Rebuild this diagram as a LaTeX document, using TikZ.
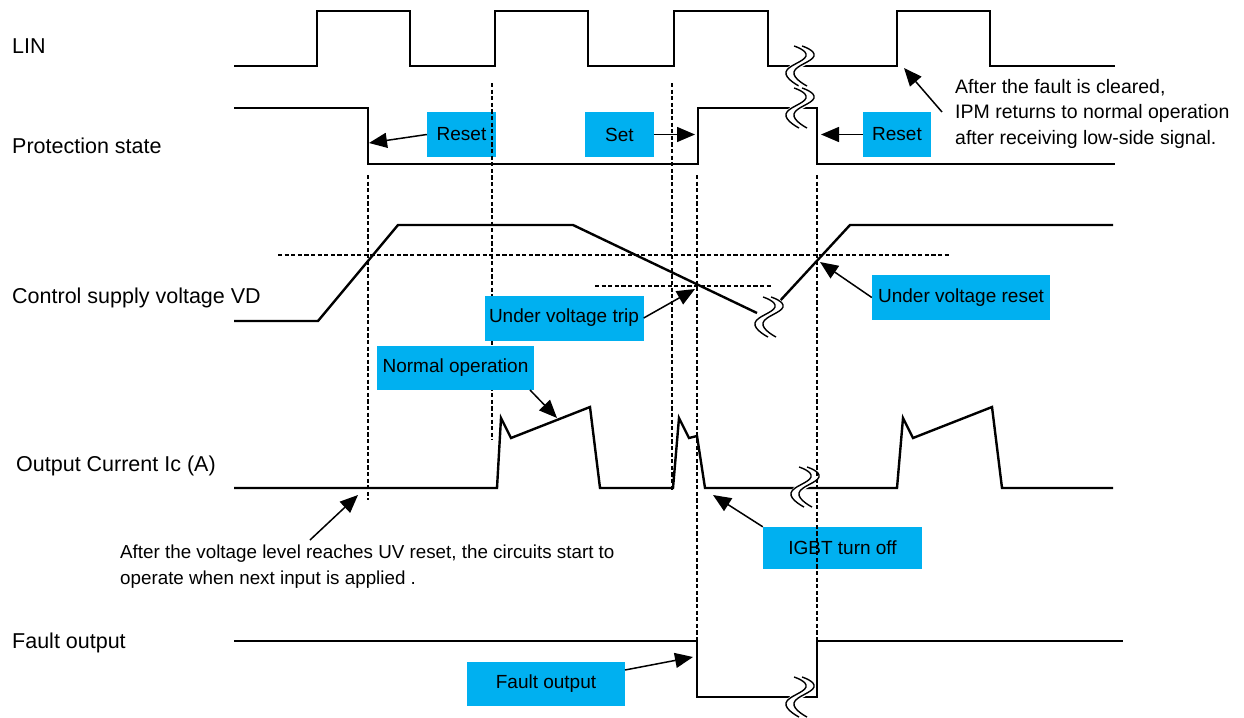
\documentclass[tikz,border=0pt]{standalone}
\usepackage{fontspec}
\setmainfont{Liberation Sans}
\usetikzlibrary{arrows.meta}
\definecolor{boxcyan}{HTML}{00B0F0}
\begin{document}
\begin{tikzpicture}[x=1pt,y=-1pt,
  wave/.style={line width=2.4pt, line join=miter},
  guide/.style={line width=1.2pt, dash pattern=on 4.2pt off 2.4pt},
  ann/.style={line width=1.5pt, -{Triangle[length=18pt,width=15pt]}},
  lbl/.style={font=\fontsize{21.5}{24}\selectfont, anchor=west, inner sep=0pt},
  note/.style={align=left, anchor=north west, inner sep=0pt},
  tag/.style={fill=boxcyan, font=\fontsize{19}{22}\selectfont, inner sep=0pt, minimum height=45pt},
  brkline/.style={line width=1.4pt},
]
\useasboundingbox (0,0) rectangle (1244,717);
\fill[white] (0,0) rectangle (1244,717);

% ---- break symbol macro ----
\newcommand{\brkmark}[1]{%
  \begin{scope}[shift={#1}]
    \draw[white, line width=8pt] plot[smooth, tension=0.8] coordinates {(1,-20) (13,-10) (-7,6) (6,20)};
    \draw[brkline] plot[smooth, tension=0.8] coordinates {(-3,-20) (9,-10) (-11,6) (2,20)};
    \draw[brkline] plot[smooth, tension=0.8] coordinates {(5,-20) (17,-10) (-3,6) (10,20)};
  \end{scope}}

% ---- left labels ----
\node[lbl] (lLIN) at (12,46) {LIN};
\node[lbl] (lPS) at (12,146) {Protection state};
\node[lbl] (lVD) at (12,298) {Control supply voltage VD};
\node[lbl] (lIC) at (16,466) {Output Current Ic (A)};
\node[lbl] (lFO) at (12,643) {Fault output};

% ---- waveforms ----
\draw[wave] (234,66) -| (317,11) -| (410,66) -| (495,11) -| (588,66) -| (674,11) -| (768,66) -| (897,11) -| (990,66) -- (1115,66);
\draw[wave] (234,108) -| (368,164) -| (698,108) -| (817,164) -- (1115,164);
\draw[wave] (234,321) -- (318,321) -- (398,225) -- (573,225) -- (757,313);
\draw[wave] (778,303) -- (850,225) -- (1113,225);
\draw[wave] (234,488) -- (497,488) -- (501,418) -- (511,438) -- (590,407) -- (600,488) -- (673,488) -- (679,418) -- (689,438) -- (697,436) -- (705,488) -- (897,488) -- (903,418) -- (913,438) -- (992,407) -- (1002,488) -- (1113,488);
\draw[wave] (234,641) -| (697,697) -| (817,641) -- (1123,641);

% ---- breaks ----
\brkmark{(797,66)}
\brkmark{(797,108)}
\brkmark{(766,317)}
\brkmark{(802,487)}
\brkmark{(797,697)}

% ---- boxes under the guides ----
\node[tag, minimum width=69pt] (r1) at (461.5,134.5) {Reset};
\node[tag, minimum width=69pt] (st) at (619.5,134.5) {Set};
\node[tag, minimum width=68pt] (r2) at (897,134.5) {Reset};
\node[tag, minimum width=159pt, minimum height=42pt] (igbt) at (842.5,548) {IGBT turn off};
\node[tag, minimum width=158pt, minimum height=44pt] (fo) at (546,684) {Fault output};

% ---- guides ----
\draw[guide] (368,175) -- (368,500);
\draw[guide] (492,83) -- (492,440);
\draw[guide] (672,83) -- (672,492);
\draw[guide] (697,175) -- (697,641);
\draw[guide] (817,175) -- (817,641);
\draw[guide] (278,255) -- (950,255);
\draw[guide] (595,286) -- (773,286);

% ---- boxes over the guides ----
\node[tag, minimum width=159pt] (uvt) at (564,318) {Under voltage trip};
\node[tag, minimum width=178pt] (uvr) at (961,297.5) {Under voltage reset};
\node[tag, minimum width=157pt, minimum height=44pt] (nop) at (455.5,368) {Normal operation};

% ---- notes ----
\node[note, font=\fontsize{19.5}{25.5}\selectfont] (n1) at (955,79) {After the fault is cleared,\\IPM returns to normal operation\\after receiving low-side signal.};
\node[note, font=\fontsize{18.8}{26}\selectfont] (n2) at (120,545) {After the voltage level reaches UV reset, the circuits start to\\operate when next input is applied .};

% ---- arrows ----
\coordinate (tR1) at (369,143);
\coordinate (tST) at (695,134.5);
\coordinate (tR2) at (821,134.5);
\coordinate (aN1) at (942,112);
\coordinate (tN1) at (904,68);
\coordinate (tUVT) at (695,289);
\coordinate (tUVR) at (820,262);
\coordinate (aNOP) at (530,390);
\coordinate (tNOP) at (557,418);
\coordinate (tIGBT) at (713,495);
\coordinate (aN2) at (310,540);
\coordinate (tN2) at (358,495);
\coordinate (aFO) at (625,670);
\coordinate (tFO) at (693,657);

\draw[ann] (r1.west) -- (tR1);
\draw[ann] (st.east) -- (tST);
\draw[ann] (r2.west) -- (tR2);
\draw[ann] (aN1) -- (tN1);
\draw[ann] (uvt.east) -- (tUVT);
\draw[ann] (uvr.west) -- (tUVR);
\draw[ann] (aNOP) -- (tNOP);
\draw[ann] (igbt.north west) -- (tIGBT);
\draw[ann] (aN2) -- (tN2);
\draw[ann] (aFO) -- (tFO);
\end{tikzpicture}
\end{document}
